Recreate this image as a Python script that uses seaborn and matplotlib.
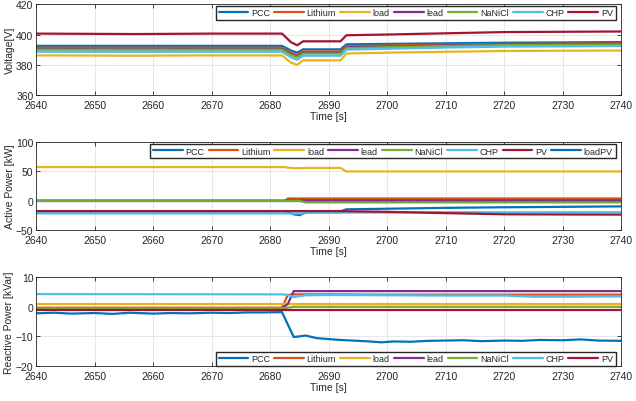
import matplotlib
matplotlib.use("Agg")
import matplotlib.pyplot as plt
import seaborn as sns

# series names and MATLAB default colours
names = ["PCC", "Lithium", "load", "lead", "NaNiCl", "CHP", "PV"]
colors = ["#0072BD", "#D95319", "#EDB120", "#7E2F8E", "#77AC30", "#4DBEEE", "#A2142F"]

# voltage [V]
t_v = [2640, 2657, 2670, 2682, 2683.5, 2684.6, 2685.6, 2692, 2693, 2700, 2710, 2720, 2730, 2740]
v_pcc = [392.5, 392.5, 392.5, 392.5, 389.5, 388.0, 390.2, 390.2, 393.5, 393.8, 394.2, 394.6, 394.8, 395.0]
v_lithium = [391.3, 391.3, 391.3, 391.3, 388.0, 386.5, 388.8, 388.8, 392.3, 392.7, 393.3, 393.8, 394.0, 394.2]
v_load = [386.2, 386.0, 386.2, 386.2, 381.5, 380.0, 382.9, 382.9, 387.5, 388.0, 388.6, 389.1, 389.3, 389.4]
v_lead = [390.4, 390.4, 390.4, 390.4, 387.0, 385.5, 387.9, 387.9, 391.5, 392.0, 392.8, 393.4, 393.6, 393.8]
v_nanicl = [390.0, 390.0, 390.0, 390.0, 386.5, 385.0, 387.4, 387.4, 391.0, 391.6, 392.4, 393.0, 393.2, 393.4]
v_chp = [388.6, 388.6, 388.6, 388.6, 385.0, 383.3, 386.0, 386.0, 390.0, 390.6, 391.4, 392.0, 392.2, 392.4]
v_pv = [400.6, 400.3, 400.6, 400.6, 395.0, 392.9, 395.5, 395.5, 399.5, 400.0, 400.8, 401.6, 401.8, 402.0]

# active power [kW]
t_p = [2640, 2682.5, 2683, 2684, 2685, 2686, 2686.5, 2692, 2693, 2700, 2710, 2720, 2730, 2740]
p_pcc = [0.5] * 14
p_lithium = [0, 0, 4, 4, 4, 4, 4, 4, 4, 4, 4, 4, 4, 4]
p_load = [57.5, 57.5, 56.5, 55.5, 55.5, 56.0, 56.0, 56.0, 50.0, 50.0, 50.0, 50.0, 50.0, 50.0]
p_lead = [0, 0, 1, 1, 1, 1, 1, 1, 1, 1, 1, 1, 1, 1]
p_nanicl = [0, 0, 0, 0, 0, -2.7, -2.7, -2.7, -2.7, -2.7, -2.7, -2.7, -2.7, -2.7]
p_chp = [-21.5, -21.5, -21.5, -21.5, -21.5, -21, -20.5, -20.5, -20, -20, -19.5, -19.5, -19.5, -19.5]
p_pv = [-17.5, -17.5, -17.5, -17.5, -17.5, -17.5, -17.5, -17.5, -17.8, -18.8, -21.0, -23.0, -23.3, -23.5]
p_loadpv = [-18, -18, -19, -23, -24.5, -20, -18, -18, -14.5, -13.5, -12, -11, -10.3, -9.5]

# reactive power [kVar]
t_q = [2640, 2682, 2683, 2684, 2685, 2686, 2690, 2700, 2710, 2720, 2725, 2730, 2740]
q_lithium = [-0.3, -0.3, 4.0, 4.2, 4.2, 4.2, 4.2, 4.1, 4.1, 4.1, 4.1, 4.1, 4.1]
q_load = [1.1] * 13
q_lead = [-0.6, -0.6, 1.0, 5.3, 5.3, 5.3, 5.3, 5.3, 5.3, 5.3, 5.3, 5.3, 5.3]
q_nanicl = [-0.5, -0.5, -0.3, 0.0, 0.0, 0.0, 0.0, 0.0, 0.0, 0.0, 0.0, 0.0, 0.0]
q_chp = [4.3, 4.2, 4.0, 3.3, 3.6, 3.9, 4.0, 3.9, 3.8, 3.8, 3.4, 3.4, 3.5]
q_pv = [-1.0] * 13
t_qpcc = [2640, 2643, 2646, 2650, 2653, 2656, 2660, 2663, 2666, 2670, 2673, 2676, 2679, 2682,
          2684, 2685, 2686, 2688, 2692, 2697, 2699, 2701, 2704, 2707, 2710, 2713, 2716, 2720,
          2723, 2726, 2730, 2733, 2736, 2740]
q_pcc = [-2.2, -2.0, -2.3, -2.1, -2.4, -2.0, -2.3, -2.1, -2.2, -2.0, -2.1, -1.9, -1.9, -1.8,
         -10.2, -10.0, -9.7, -10.6, -11.2, -11.7, -12.0, -11.7, -11.8, -11.5, -11.4, -11.3, -11.6, -11.4,
         -11.5, -11.2, -11.3, -11.0, -11.4, -11.5]

sns.set_style("ticks")
plt.rcParams["font.family"] = ["Liberation Sans", "DejaVu Sans"]

fig = plt.figure(figsize=(6.36, 4.02), dpi=100)
ax1 = fig.add_axes([0.057, 0.761, 0.92, 0.226])
ax2 = fig.add_axes([0.057, 0.425, 0.92, 0.219])
ax3 = fig.add_axes([0.057, 0.087, 0.92, 0.221])

lw = 1.6

# panel 1 - voltage
v_all = [v_pcc, v_lithium, v_load, v_lead, v_nanicl, v_chp, v_pv]
for name, c, vals in zip(names, colors, v_all):
    sns.lineplot(x=t_v, y=vals, color=c, label=name, linewidth=lw, ax=ax1)

# panel 2 - active power (loadPV drawn underneath)
sns.lineplot(x=t_p, y=p_loadpv, color=colors[0], label="loadPV", linewidth=lw, ax=ax2, zorder=1.5)
p_all = [p_pcc, p_lithium, p_load, p_lead, p_nanicl, p_chp, p_pv]
for name, c, vals in zip(names, colors, p_all):
    sns.lineplot(x=t_p, y=vals, color=c, label=name, linewidth=lw, ax=ax2, zorder=2)

# panel 3 - reactive power
sns.lineplot(x=t_qpcc, y=q_pcc, color=colors[0], label="PCC", linewidth=lw, ax=ax3)
q_all = [q_lithium, q_load, q_lead, q_nanicl, q_chp, q_pv]
for name, c, vals in zip(names[1:], colors[1:], q_all):
    sns.lineplot(x=t_q, y=vals, color=c, label=name, linewidth=lw, ax=ax3)

leg_kw = dict(ncol=8, fontsize=6.5, handlelength=3.3, handletextpad=0.3, columnspacing=0.45,
              borderpad=0.3, fancybox=False, framealpha=1, edgecolor="#262626")

h, l = ax1.get_legend_handles_labels()
ax1.legend(h, l, loc="upper right", bbox_to_anchor=(0.99, 0.985), borderaxespad=0, **leg_kw)

h, l = ax2.get_legend_handles_labels()
order = [l.index(n) for n in names + ["loadPV"]]
ax2.legend([h[i] for i in order], [l[i] for i in order], loc="upper right",
           bbox_to_anchor=(0.99, 0.98), borderaxespad=0, **leg_kw)

h, l = ax3.get_legend_handles_labels()
ax3.legend(h, l, loc="lower right", bbox_to_anchor=(0.99, 0.0), borderaxespad=0, **leg_kw)

ylims = [(360, 420), (-50, 100), (-20, 10)]
yticks = [[360, 380, 400, 420], [-50, 0, 50, 100], [-20, -10, 0, 10]]
ylabels = ["Voltage[V]", "Active Power [kW]", "Reactive Power [kVar]"]
xticks = list(range(2640, 2741, 10))

for ax, yl, yt, lab in zip([ax1, ax2, ax3], ylims, yticks, ylabels):
    ax.set_xlim(2640, 2740)
    ax.set_ylim(*yl)
    ax.set_xticks(xticks)
    ax.set_yticks(yt)
    ax.grid(True, color="#e3e3e3", linewidth=0.6)
    ax.set_axisbelow(True)
    ax.tick_params(direction="in", top=True, right=True, labelsize=7.5, length=3,
                   width=0.6, colors="#262626")
    ax.tick_params(axis="x", pad=3.5)
    ax.tick_params(axis="y", pad=2)
    for sp in ax.spines.values():
        sp.set_visible(True)
        sp.set_color("#262626")
        sp.set_linewidth(0.6)
    ax.set_xlabel("Time [s]", fontsize=7.5, labelpad=0.5, color="#262626")
    ax.set_ylabel(lab, fontsize=7.5, labelpad=1, color="#262626")

fig.savefig("out.png", dpi=100)
